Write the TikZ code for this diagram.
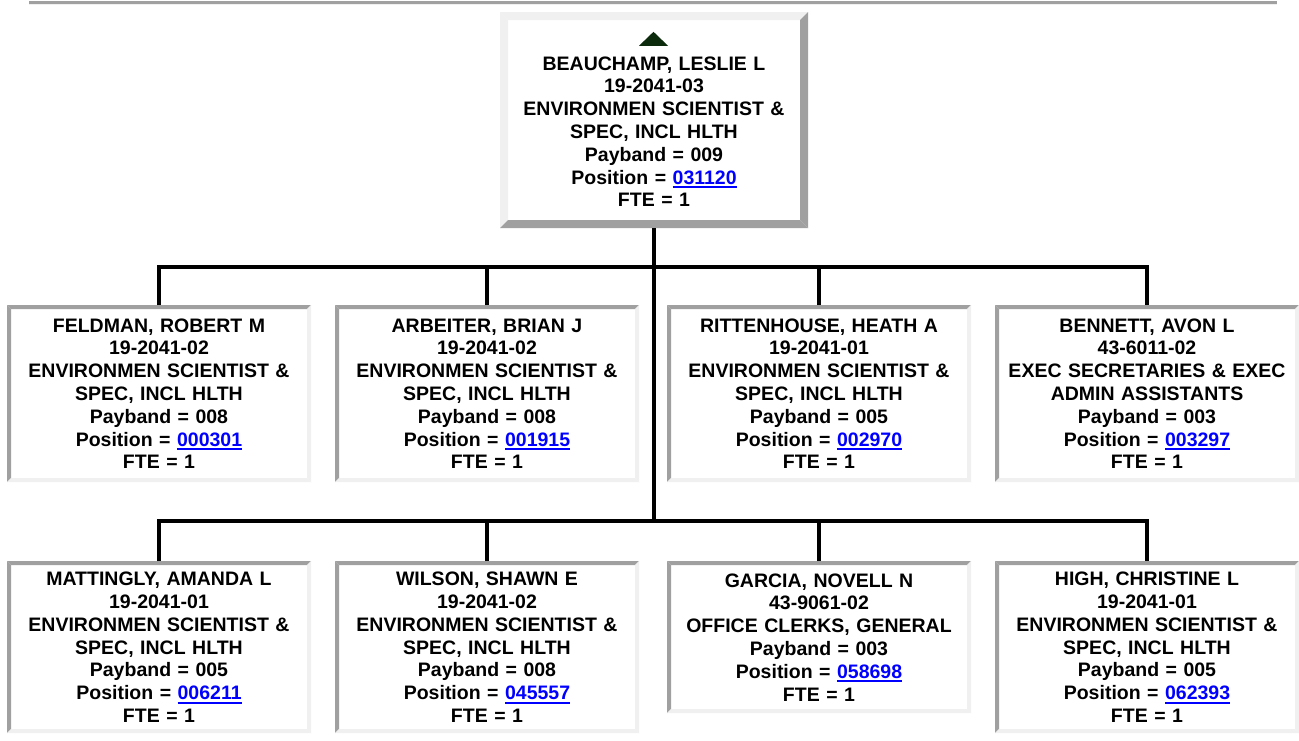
\documentclass[tikz,border=0pt]{standalone}
\usepackage{fontspec}
\setmainfont{Liberation Sans}
\usetikzlibrary{calc}
\definecolor{bdark}{RGB}{160,160,160}
\definecolor{blight}{RGB}{240,240,240}
\definecolor{linkblue}{RGB}{0,0,255}
\definecolor{tricol}{RGB}{12,42,12}
\newcommand\pfont{\fontsize{19.5pt}{22.8pt}\selectfont\bfseries}
\newcommand\lnk[1]{{\color{linkblue}\setbox0=\hbox{#1}\rlap{\rule[-4pt]{\wd0}{2pt}}\box0}}
\newcommand\envjob{ENVIRONMEN SCIENTIST \&\\ SPEC, INCL HLTH}
\tikzset{
  x=1pt, y=-1pt,
  bevel/.style n args={3}{path picture={
    \coordinate (NW) at (path picture bounding box.north west);
    \coordinate (NE) at (path picture bounding box.north east);
    \coordinate (SW) at (path picture bounding box.south west);
    \coordinate (SE) at (path picture bounding box.south east);
    \fill[#1] (NW) -- (NE) -- ([shift={(-#3,#3)}]NE) -- ([shift={(#3,#3)}]NW) -- cycle;
    \fill[#1] (NW) -- ([shift={(#3,#3)}]NW) -- ([shift={(#3,-#3)}]SW) -- (SW) -- cycle;
    \fill[#2] (SW) -- (SE) -- ([shift={(-#3,-#3)}]SE) -- ([shift={(#3,-#3)}]SW) -- cycle;
    \fill[#2] (NE) -- (SE) -- ([shift={(-#3,-#3)}]SE) -- ([shift={(-#3,#3)}]NE) -- cycle;
  }},
  person/.style={rectangle, fill=white, anchor=north, inner sep=0pt,
    minimum width=304pt, minimum height=#1, text width=300pt, align=center,
    font=\pfont, bevel={bdark}{blight}{4}},
  person/.default=177pt,
  topbox/.style={rectangle, fill=white, inner sep=0pt,
    minimum width=308pt, minimum height=216pt, text width=300pt, align=center,
    font=\pfont, bevel={blight}{bdark}{8}},
  conn/.style={line width=4pt, black},
}
\begin{document}
\begin{tikzpicture}
\fill[white] (0,0) rectangle (1299,740);
\useasboundingbox (0,0) rectangle (1299,740);
% rule at the top
\fill[bdark] (29,1) rectangle (1277,4);
\fill[blight] (29,4) rectangle (1277,5);

\node[topbox] (top) at (654,120) {\rule{0pt}{14pt}\\ BEAUCHAMP, LESLIE L\\ 19-2041-03\\ \envjob\\ Payband = 009\\ Position = \lnk{031120}\\ FTE = 1};
\fill[tricol] ([shift={(-15,34)}]top.north) -- ++(29,0) -- ++(-14.5,-14) -- cycle;

\node[person] (feldman) at (159,305) {FELDMAN, ROBERT M\\ 19-2041-02\\ \envjob\\ Payband = 008\\ Position = \lnk{000301}\\ FTE = 1};
\node[person] (arbeiter) at (487,305) {ARBEITER, BRIAN J\\ 19-2041-02\\ \envjob\\ Payband = 008\\ Position = \lnk{001915}\\ FTE = 1};
\node[person] (rittenhouse) at (819,305) {RITTENHOUSE, HEATH A\\ 19-2041-01\\ \envjob\\ Payband = 005\\ Position = \lnk{002970}\\ FTE = 1};
\node[person] (bennett) at (1147,305) {BENNETT, AVON L\\ 43-6011-02\\ EXEC SECRETARIES \& EXEC\\ ADMIN ASSISTANTS\\ Payband = 003\\ Position = \lnk{003297}\\ FTE = 1};

\node[person=172pt] (mattingly) at (159,561) {MATTINGLY, AMANDA L\\ 19-2041-01\\ \envjob\\ Payband = 005\\ Position = \lnk{006211}\\ FTE = 1};
\node[person=172pt] (wilson) at (487,561) {WILSON, SHAWN E\\ 19-2041-02\\ \envjob\\ Payband = 008\\ Position = \lnk{045557}\\ FTE = 1};
\node[person=152pt] (garcia) at (819,561) {GARCIA, NOVELL N\\ 43-9061-02\\ OFFICE CLERKS, GENERAL\\ Payband = 003\\ Position = \lnk{058698}\\ FTE = 1};
\node[person=172pt] (high) at (1147,561) {HIGH, CHRISTINE L\\ 19-2041-01\\ \envjob\\ Payband = 005\\ Position = \lnk{062393}\\ FTE = 1};

\coordinate (bus1) at (654,267);
\coordinate (bus2) at (654,521);
\draw[conn] (top.south) -- (bus2);
\draw[conn] (feldman.north) |- (bus1) -| (bennett.north);
\draw[conn] (arbeiter.north) -- (arbeiter.north |- bus1);
\draw[conn] (rittenhouse.north) -- (rittenhouse.north |- bus1);
\draw[conn] (mattingly.north) |- (bus2) -| (high.north);
\draw[conn] (wilson.north) -- (wilson.north |- bus2);
\draw[conn] (garcia.north) -- (garcia.north |- bus2);
\end{tikzpicture}
\end{document}
